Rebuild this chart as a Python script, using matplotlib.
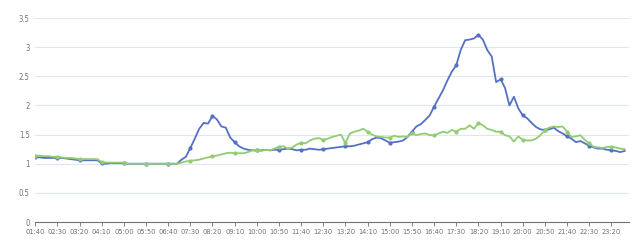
import numpy as np
import matplotlib
matplotlib.use("Agg")
import matplotlib.pyplot as plt

# 10-minute samples from 01:40 to 23:50
start_min = 100
step_min = 10

blue_vals = [
    1.11, 1.11, 1.10, 1.10, 1.10, 1.10, 1.10, 1.09, 1.08, 1.07,   # 01:40-03:10
    1.06, 1.06, 1.06, 1.06, 1.06, 1.01, 1.00, 1.01, 1.01, 1.01,   # 03:20-04:50
    1.01, 1.00, 1.00, 1.00, 1.00, 1.00, 1.00, 1.00, 1.00, 1.00,   # 05:00-06:30
    1.00, 1.00, 1.00, 1.07, 1.12, 1.27, 1.43, 1.60, 1.70, 1.69,   # 06:40-08:10
    1.82, 1.76, 1.64, 1.62, 1.45, 1.37, 1.30, 1.26, 1.24, 1.23,   # 08:20-09:50
    1.23, 1.23, 1.24, 1.23, 1.24, 1.24, 1.25, 1.26, 1.25, 1.23,   # 10:00-11:30
    1.24, 1.24, 1.26, 1.25, 1.24, 1.25, 1.26, 1.27, 1.28, 1.29,   # 11:40-13:10
    1.30, 1.30, 1.31, 1.33, 1.35, 1.37, 1.42, 1.45, 1.44, 1.40,   # 13:20-14:50
    1.36, 1.37, 1.38, 1.40, 1.46, 1.55, 1.64, 1.68, 1.75, 1.83,   # 15:00-16:30
    1.98, 2.12, 2.26, 2.43, 2.58, 2.69, 2.95, 3.12, 3.13, 3.15,   # 16:40-18:10
    3.21, 3.13, 2.95, 2.84, 2.40, 2.45, 2.30, 2.00, 2.15, 1.95,   # 18:20-19:50
    1.83, 1.78, 1.70, 1.63, 1.59, 1.58, 1.59, 1.62, 1.56, 1.52,   # 20:00-21:30
    1.47, 1.43, 1.37, 1.39, 1.35, 1.31, 1.28, 1.26, 1.26, 1.24,   # 21:40-23:10
    1.23, 1.22, 1.20, 1.22,                                       # 23:20-23:50
]

green_vals = [
    1.14, 1.14, 1.13, 1.13, 1.12, 1.12, 1.11, 1.10, 1.10, 1.09,
    1.08, 1.08, 1.08, 1.08, 1.08, 1.03, 1.02, 1.02, 1.02, 1.02,
    1.02, 1.00, 1.00, 1.00, 1.00, 1.00, 1.00, 1.00, 1.00, 1.00,
    1.00, 1.00, 1.00, 1.02, 1.04, 1.05, 1.06, 1.07, 1.09, 1.11,
    1.13, 1.14, 1.16, 1.18, 1.19, 1.18, 1.18, 1.18, 1.20, 1.23,
    1.23, 1.22, 1.24, 1.23, 1.26, 1.29, 1.30, 1.26, 1.28, 1.33,
    1.36, 1.35, 1.40, 1.43, 1.44, 1.41, 1.43, 1.46, 1.48, 1.50,
    1.35, 1.52, 1.55, 1.57, 1.60, 1.55, 1.50, 1.47, 1.46, 1.45,
    1.45, 1.48, 1.46, 1.47, 1.46, 1.52, 1.49, 1.51, 1.52, 1.49,
    1.49, 1.52, 1.55, 1.53, 1.58, 1.55, 1.60, 1.60, 1.66, 1.60,
    1.70, 1.66, 1.60, 1.58, 1.55, 1.55, 1.49, 1.47, 1.38, 1.47,
    1.41, 1.40, 1.40, 1.43, 1.49, 1.58, 1.62, 1.64, 1.63, 1.64,
    1.55, 1.46, 1.47, 1.49, 1.41, 1.35, 1.29, 1.28, 1.27, 1.29,
    1.29, 1.28, 1.26, 1.25,
]

tick_labels = ["01:40", "02:30", "03:20", "04:10", "05:00", "05:50", "06:40",
               "07:30", "08:20", "09:10", "10:00", "10:50", "11:40", "12:30",
               "13:20", "14:10", "15:00", "15:50", "16:40", "17:30", "18:20",
               "19:10", "20:00", "20:50", "21:40", "22:30", "23:20"]

y_ticks = [0, 0.5, 1, 1.5, 2, 2.5, 3, 3.5]
y_labels = ["0", "0.5", "1", "1.5", "2", "2.5", "3", "3.5"]


def to_min(s):
    h, m = s.split(":")
    return int(h) * 60 + int(m)


t = start_min + step_min * np.arange(len(blue_vals))
tick_pos = [to_min(s) for s in tick_labels]

label_color = "#6E7079"

fig = plt.figure(figsize=(6.4, 2.47), dpi=100)
ax = fig.add_axes([0.055, 0.101, 0.928, 0.826])

for y in y_ticks[1:]:
    ax.axhline(y, color="#E0E6F1", lw=0.8, zorder=0)

ax.plot(t, blue_vals, color="#5470c6", lw=1.3, marker="o", ms=2.0,
        markevery=5, zorder=3)
ax.plot(t, green_vals, color="#91cc75", lw=1.3, marker="o", ms=2.0,
        markevery=5, zorder=4)

ax.set_xlim(100, 1440)
ax.set_ylim(0, 3.5)

ax.set_xticks(tick_pos)
ax.set_xticklabels(tick_labels, fontsize=5.3, color=label_color,
                   family="DejaVu Sans", stretch="condensed")
ax.set_yticks(y_ticks)
ax.set_yticklabels(y_labels, fontsize=5.5, color=label_color,
                   family="DejaVu Sans", stretch="condensed")

ax.tick_params(axis="x", length=3, width=0.6, color=label_color, pad=2)
ax.tick_params(axis="y", length=0, pad=4)

for side in ["top", "right", "left"]:
    ax.spines[side].set_visible(False)
ax.spines["bottom"].set_color(label_color)
ax.spines["bottom"].set_linewidth(0.8)

fig.savefig("out.png", dpi=100)
